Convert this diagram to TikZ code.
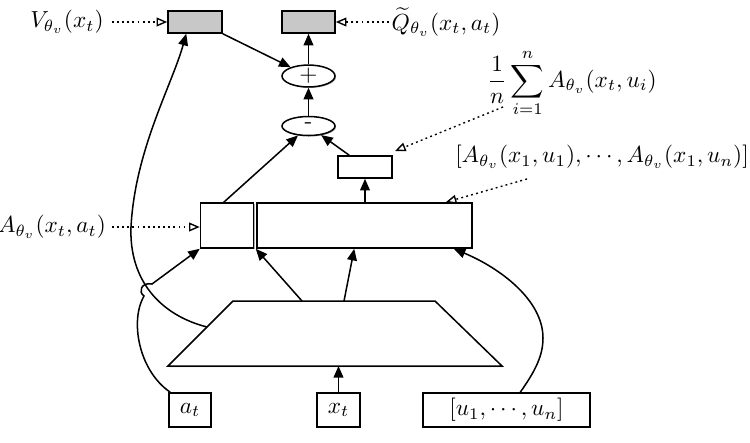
\documentclass[tikz,border=0pt]{standalone}
\usetikzlibrary{arrows.meta,shapes.geometric,shadows,calc}
\newcommand\pu{0.43pt}
\definecolor{boxgray}{HTML}{C8C8C8}
\begin{document}
\begin{tikzpicture}[x=0.43pt,y=-0.43pt,
  shad/.style={drop shadow={shadow xshift=0.45pt,shadow yshift=-0.45pt,opacity=0.3,fill=black}},
  box/.style={draw,line width=0.65pt,fill=white,inner sep=0pt,shad},
  graybox/.style={box,fill=boxgray},
  oval/.style={ellipse,box,minimum width=53*\pu,minimum height=19*\pu,font=\sffamily\fontsize{10}{10}\selectfont},
  arr/.style={line width=0.65pt,-{Triangle[length=5pt,width=4.2pt]}},
  dotarr/.style={line width=0.6pt,dash pattern=on 0.8pt off 1.4pt,-{Triangle[open,length=4.6pt,width=3.8pt,fill=white]}},
  lab/.style={inner sep=0pt}]
\useasboundingbox (0,0) rectangle (750,442);
% top boxes
\node[graybox,minimum width=54*\pu,minimum height=22*\pu] (V) at (195,22) {};
\node[graybox,minimum width=53*\pu,minimum height=22*\pu] (Q) at (308.5,22) {};
\node[oval] (plus) at (308.5,76) {+};
\node[oval] (minus) at (308.5,126) {-};
\node[box,minimum width=54*\pu,minimum height=22*\pu] (mean) at (365,167) {};
\node[box,minimum width=53*\pu,minimum height=45*\pu] (Abox) at (227,225.5) {};
\node[box,minimum width=215*\pu,minimum height=45*\pu] (big) at (364.5,225.5) {};
% trapezoid
\coordinate (tl) at (233,301);
\coordinate (tr) at (435,301);
\coordinate (br) at (502,366);
\coordinate (bl) at (168,366);
\filldraw[line width=0.65pt,fill=white,shad] (tl) -- (tr) -- (br) -- (bl) -- cycle;
\coordinate (t1) at (302,301);
\coordinate (t2) at (344,301);
\coordinate (tv) at (207,327);
% inputs
\node[box,minimum width=42*\pu,minimum height=34*\pu] (at) at (190,410) {$a_t$};
\node[box,minimum width=43*\pu,minimum height=34*\pu] (xt) at (338.5,410) {$x_t$};
\node[box,minimum width=167*\pu,minimum height=34*\pu] (u) at (506.5,410) {$[u_1,\cdots,u_n]$};
% labels
\node[lab] (Vlab) at (67,22) {$V_{\theta_v}(x_t)$};
\node[lab] (Qlab) at (446,22) {$\widetilde{Q}_{\theta_v}(x_t,a_t)$};
\node[lab] (meanlab) at (572,83) {$\displaystyle\frac{1}{n}\sum_{i=1}^{n}A_{\theta_v}(x_t,u_i)$};
\node[lab] (listlab) at (602,157) {$[A_{\theta_v}(x_1,u_1),\cdots,A_{\theta_v}(x_1,u_n)]$};
\node[lab] (Alab) at (52,227) {$A_{\theta_v}(x_t,a_t)$};
% dotted pointers
\coordinate (vd) at (112,22);
\coordinate (qd) at (389,22);
\coordinate (md) at (503,107);
\coordinate (mt) at (395,151);
\coordinate (ld) at (527,179);
\coordinate (ad) at (112,227);
\draw[dotarr] (vd) -- (V.west);
\draw[dotarr] (qd) -- (Q.east);
\draw[dotarr] (md) -- (mt);
\draw[dotarr] (ld) -- ($(big.north east)+(-27,0)$);
\draw[dotarr] (ad) -- (Abox.west |- ad);
% solid connectors
\draw[arr] (V.south east) -- (plus);
\draw[arr] (plus.north) -- (Q.south);
\draw[arr] (minus.north) -- (plus.south);
\draw[arr] ($(Abox.north west)+(24,0)$) -- (minus);
\draw[arr] ($(mean.north west)+(12,0)$) -- (minus);
\draw[arr] (mean.south |- big.north) -- (mean.south);
\draw[arr] (t1) -- ($(Abox.south east)+(1.5,0)$);
\draw[arr] (t2) -- ($(big.south west)+(98,0)$);
\draw[arr] (xt.north) -- (xt.north |- bl);
% curves
\draw[arr] (tv) .. controls (160,315) and (129,280) .. (131,227)
  .. controls (135,150) and (172,85) .. ($(V.south west)+(19,0)$);
\draw[arr] ($(at.north west)+(2,0)$) .. controls (138,370) and (130,320) .. (144,296)
  .. controls (138,292) and (141,282) .. (152,284) -- (Abox.south west);
\draw[arr] ($(u.north west)+(98,0)$) .. controls (536,370) and (543,355) .. (543,338)
  .. controls (543,300) and (500,268) .. ($(big.south east)+(-19,0)$);
\end{tikzpicture}
\end{document}
